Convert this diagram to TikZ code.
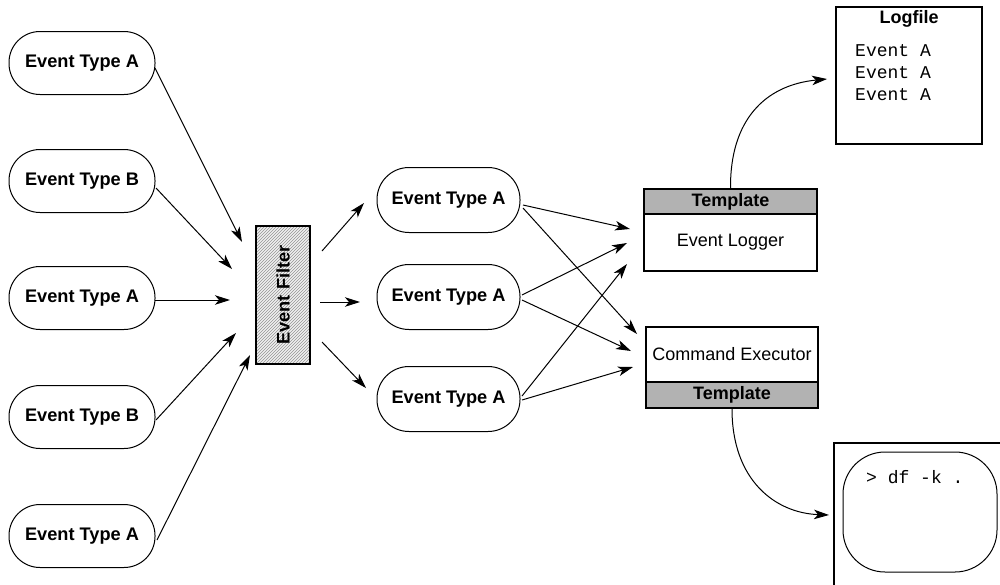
\documentclass[tikz,border=0pt]{standalone}
\usepackage{fontspec}
\setmainfont{Liberation Sans}
\setmonofont{Liberation Mono}
\usetikzlibrary{arrows.meta,patterns}
\begin{document}
\begin{tikzpicture}[x=1pt,y=-1pt,
  ev/.style={draw, line width=1pt, rounded corners=31pt, minimum width=146pt, minimum height=63pt, inner sep=0pt, font=\fontsize{18.2}{22}\selectfont\bfseries},
  evm/.style={ev, minimum width=143pt, minimum height=65pt, rounded corners=32pt},
  arr/.style={-{Stealth[length=15pt,width=9.5pt,inset=4pt]}, line width=1pt},
  box/.style={draw, line width=1.8pt, inner sep=0pt, minimum width=173pt},
  hdr/.style={box, fill=black!30, font=\fontsize{18}{22}\selectfont\bfseries},
  body/.style={box, font=\fontsize{18}{22}\selectfont},
  mono/.style={font=\fontsize{18}{22}\selectfont\ttfamily}
]
\useasboundingbox (0,0) rectangle (1000,584);
\clip (0,0) rectangle (1000,584);

% left column
\node[ev] (a1) at (82,63) {Event Type A};
\node[ev] (b1) at (82,181) {Event Type B};
\node[ev] (a2) at (82,298) {Event Type A};
\node[ev] (b2) at (82,417) {Event Type B};
\node[ev] (a3) at (82,536) {Event Type A};

% filter
\node[draw, line width=1.8pt, rotate=90, minimum width=138pt, minimum height=54pt, inner sep=0pt,
  preaction={fill=black!6}, pattern=north east lines, pattern color=black!42,
  font=\fontsize{18.2}{22}\selectfont\bfseries] (flt) at (283,295) {Event Filter};

% middle column
\node[evm] (m1) at (448.5,200) {Event Type A};
\node[evm] (m2) at (448.5,297) {Event Type A};
\node[evm] (m3) at (448.5,399) {Event Type A};

% logger
\node[hdr, minimum height=25pt] (lgt) at (730.5,201.5) {Template};
\node[body, minimum height=57pt] (lg) at (730.5,242.5) {Event Logger};

% executor
\node[body, minimum width=172pt, minimum height=55pt] (ex) at (732,354.5) {Command Executor};
\node[hdr, minimum width=172pt, minimum height=26pt] (ext) at (732,395) {Template};

% logfile
\node[box, minimum width=146pt, minimum height=137pt] (lf) at (909,75.5) {};
\node[font=\fontsize{18}{22}\selectfont\bfseries] (lft) at (909,19) {Logfile};
\node[mono, anchor=north west, align=left, inner sep=0pt] (lfx) at (855,44) {Event A\\Event A\\Event A};

% terminal
\node[box, minimum width=190pt, minimum height=170pt, anchor=north west] (term) at (833,442) {};
\node[draw, line width=1pt, rounded corners=42pt, minimum width=154pt, minimum height=120pt] (sh) at (920,512) {};
\node[mono, anchor=west, inner sep=0pt] (cmd) at (866,477) {> df -k .};

% coordinates
\coordinate (s1) at (155,68);  \coordinate (t1) at (242,242);
\coordinate (s2) at (156,188); \coordinate (t2) at (232,269);
\coordinate (s3) at (155,300); \coordinate (t3) at (230,300);
\coordinate (s4) at (156,420); \coordinate (t4) at (236,333);
\coordinate (s5) at (157,540); \coordinate (t5) at (250,355);

\coordinate (f1) at (322,251); \coordinate (u1) at (364,203);
\coordinate (f2) at (320,302); \coordinate (u2) at (360,302);
\coordinate (f3) at (322,342); \coordinate (u3) at (366,388);

\coordinate (p1) at (523,205); \coordinate (p1b) at (523,208);
\coordinate (p2) at (522,295); \coordinate (p2b) at (522,300);
\coordinate (p3) at (522,396); \coordinate (p3b) at (522,400);
\coordinate (q1) at (630,229); \coordinate (q2) at (637,334);
\coordinate (q3) at (627,243); \coordinate (q4) at (631,351);
\coordinate (q5) at (627,264); \coordinate (q6) at (633,367);

\coordinate (lfin) at (827,79);
\coordinate (tin) at (829,515);

% left arrows
\draw[arr] (s1) -- (t1);
\draw[arr] (s2) -- (t2);
\draw[arr] (s3) -- (t3);
\draw[arr] (s4) -- (t4);
\draw[arr] (s5) -- (t5);

% filter outputs
\draw[arr] (f1) -- (u1);
\draw[arr] (f2) -- (u2);
\draw[arr] (f3) -- (u3);

% middle to boxes
\draw[arr] (p1) -- (q1);
\draw[arr] (p1b) -- (q2);
\draw[arr] (p2) -- (q3);
\draw[arr] (p2b) -- (q4);
\draw[arr] (p3) -- (q5);
\draw[arr] (p3b) -- (q6);

% curves
\draw[arr] (lgt.north) .. controls (730,120) and (765,85) .. (lfin);
\draw[arr] (ext.south) .. controls (732,480) and (775,513) .. (tin);
\end{tikzpicture}
\end{document}
